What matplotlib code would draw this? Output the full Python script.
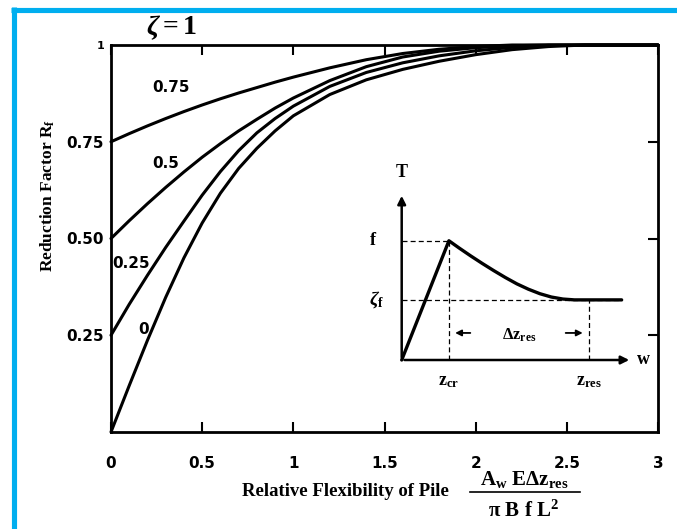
import matplotlib
matplotlib.use('Agg')
import matplotlib.pyplot as plt
from matplotlib.lines import Line2D

plt.rcParams['mathtext.fontset'] = 'custom'
plt.rcParams['mathtext.rm'] = 'Liberation Serif:bold'
plt.rcParams['mathtext.it'] = 'Liberation Serif:italic:bold'
plt.rcParams['mathtext.bf'] = 'Liberation Serif:bold'

# relative flexibility of pile
flex = [0, 0.1, 0.2, 0.3, 0.4, 0.5, 0.6, 0.7, 0.8, 0.9, 1.0,
        1.2, 1.4, 1.6, 1.8, 2.0, 2.2, 2.4, 2.6, 2.8, 3.0]

# reduction factor Rf for each residual ratio zeta
rf_075 = [0.75, 0.771, 0.791, 0.81, 0.828, 0.845, 0.861, 0.876, 0.89, 0.904, 0.917,
          0.941, 0.962, 0.978, 0.989, 0.996, 1.0, 1.0, 1.0, 1.0, 1.0]
rf_050 = [0.50, 0.546, 0.59, 0.632, 0.672, 0.71, 0.745, 0.778, 0.808, 0.837, 0.863,
          0.908, 0.944, 0.969, 0.984, 0.993, 0.998, 1.0, 1.0, 1.0, 1.0]
rf_025 = [0.25, 0.33, 0.405, 0.477, 0.545, 0.612, 0.673, 0.727, 0.773, 0.81, 0.842,
          0.893, 0.929, 0.954, 0.972, 0.985, 0.994, 0.999, 1.0, 1.0, 1.0]
rf_000 = [0.0, 0.12, 0.237, 0.348, 0.45, 0.54, 0.617, 0.681, 0.733, 0.778, 0.817,
          0.872, 0.91, 0.937, 0.958, 0.975, 0.988, 0.996, 1.0, 1.0, 1.0]

curve_labels = ['0.75', '0.5', '0.25', '0']
label_pos = [(0.33, 0.89), (0.30, 0.695), (0.11, 0.436), (0.18, 0.264)]

x_ticks = [0, 0.5, 1, 1.5, 2, 2.5, 3]
x_ticklabels = ['0', '0.5', '1', '1.5', '2', '2.5', '3']
y_ticks = [0.25, 0.5, 0.75, 1]
y_ticklabels = ['0.25', '0.50', '0.75', '1']

# shear stress - displacement sketch (normalised w, T)
sketch_w = [0.0, 0.205, 0.25, 0.30, 0.35, 0.40, 0.45, 0.50, 0.55, 0.60, 0.65, 0.70, 0.75, 0.955]
sketch_t = [0.0, 0.714, 0.67, 0.623, 0.578, 0.535, 0.494, 0.456, 0.424, 0.397, 0.377, 0.365, 0.36, 0.36]
w_cr = 0.205
w_res = 0.813
t_peak = 0.714
t_res = 0.36

W, H = 677, 529
BLUE = '#00AEEF'
tick_font = dict(family='DejaVu Sans', weight='bold', size=11)
serif_bold = dict(family='Liberation Serif', weight='bold')


def main():
    fig = plt.figure(figsize=(W / 100, H / 100), dpi=100)

    # page frame
    fig.add_artist(Line2D([11 / W, 1], [1 - 9.5 / H, 1 - 9.5 / H], color=BLUE, lw=3.7,
                          transform=fig.transFigure, solid_capstyle='butt'))
    fig.add_artist(Line2D([13.5 / W, 13.5 / W], [0, 1 - 7 / H], color=BLUE, lw=3.7,
                          transform=fig.transFigure, solid_capstyle='butt'))

    ax = fig.add_axes([111 / W, (H - 432) / H, 547 / W, 387 / H])
    for rf in (rf_075, rf_050, rf_025, rf_000):
        ax.plot(flex, rf, color='black', lw=2.2, solid_capstyle='round',
                solid_joinstyle='round', clip_on=False)
    for txt, (px, py) in zip(curve_labels, label_pos):
        ax.text(px, py, txt, ha='center', va='center', **tick_font)

    ax.set_xlim(0, 3)
    ax.set_ylim(0, 1)
    for s in ax.spines.values():
        s.set_linewidth(2.0)

    ax.set_xticks(x_ticks)
    ax.set_xticklabels(x_ticklabels, **tick_font)
    ax.set_yticks(y_ticks)
    ax.set_yticklabels(y_ticklabels, **tick_font)
    ax.get_yticklabels()[-1].set_fontsize(8)
    ax.tick_params(axis='x', direction='in', top=True, bottom=True, length=7, width=1.5, pad=17)
    ax.tick_params(axis='y', direction='in', left=False, right=True, length=7, width=1.5, pad=5)

    ax.text(0.33, 1.028, r'$\zeta = 1$', ha='center', va='baseline', fontsize=20,
            transform=ax.get_xaxis_transform())

    fig.text(48 / W, 1 - 196 / H, r'Reduction Factor $\mathrm{R_f}$', rotation=90,
             ha='center', va='center', fontsize=12.5, **serif_bold)
    fig.text(345 / W, 1 - 492 / H, 'Relative Flexibility of Pile', ha='center', va='center',
             fontsize=13.5, **serif_bold)
    fig.text(524 / W, 1 - 479 / H, r'$\mathrm{A_w\ E\Delta z_{res}}$', ha='center', va='center',
             fontsize=15)
    fig.add_artist(Line2D([470 / W, 580 / W], [1 - 492 / H, 1 - 492 / H], color='black', lw=1.2,
                          transform=fig.transFigure))
    fig.text(524 / W, 1 - 510 / H, r'$\mathrm{\pi\ B\ f\ L^2}$', ha='center', va='center',
             fontsize=15)

    # inset sketch of the skin friction curve
    axi = fig.add_axes([401.7 / W, (H - 360) / H, 230.3 / W, 167 / H])
    axi.set_xlim(0, 1)
    axi.set_ylim(0, 1)
    axi.axis('off')
    axi.annotate('', xy=(0, 1.0), xytext=(0, 0),
                 arrowprops=dict(arrowstyle='-|>', color='black', lw=1.8, mutation_scale=12))
    axi.annotate('', xy=(1.0, 0), xytext=(0, 0),
                 arrowprops=dict(arrowstyle='-|>', color='black', lw=1.8, mutation_scale=12))
    axi.plot(sketch_w, sketch_t, color='black', lw=2.4, solid_capstyle='round',
             solid_joinstyle='round', clip_on=False)
    dash = dict(color='black', lw=0.9, ls=(0, (4, 2.5)))
    axi.plot([0, w_cr], [t_peak, t_peak], **dash)
    axi.plot([w_cr, w_cr], [0, t_peak], **dash)
    axi.plot([0, sketch_w[-1]], [t_res, t_res], **dash)
    axi.plot([w_res, w_res], [0, t_res], **dash)
    axi.annotate('', xy=(w_cr + 0.015, 0.162), xytext=(0.31, 0.162),
                 arrowprops=dict(arrowstyle='-|>', color='black', lw=1.3, mutation_scale=9))
    axi.annotate('', xy=(w_res - 0.015, 0.162), xytext=(0.70, 0.162),
                 arrowprops=dict(arrowstyle='-|>', color='black', lw=1.3, mutation_scale=9))

    axi.text(0.0, 1.125, 'T', ha='center', va='center', fontsize=13, **serif_bold)
    axi.text(-0.125, t_peak, 'f', ha='center', va='center', fontsize=13, **serif_bold)
    axi.text(-0.11, t_res, r'$\zeta_{\mathrm{f}}$', ha='center', va='center', fontsize=14)
    axi.text(1.05, 0.0, 'w', ha='center', va='center', fontsize=13, **serif_bold)
    axi.text(w_cr, -0.125, r'$\mathrm{z_{cr}}$', ha='center', va='center', fontsize=13)
    axi.text(w_res, -0.125, r'$\mathrm{z_{res}}$', ha='center', va='center', fontsize=13)
    axi.text(0.51, 0.15, r'$\mathrm{\Delta z_{res}}$', ha='center', va='center', fontsize=12)

    fig.savefig('out.png', dpi=100)


if __name__ == '__main__':
    main()
